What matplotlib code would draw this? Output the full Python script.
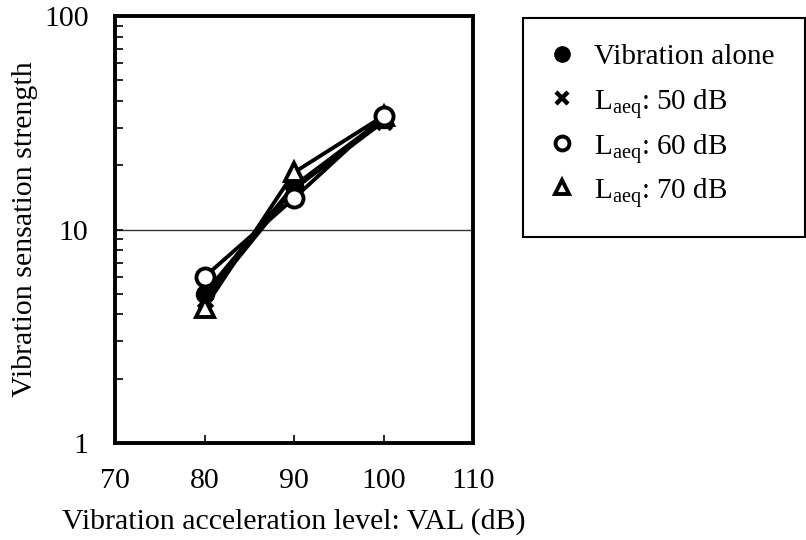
import matplotlib
matplotlib.use('Agg')
import matplotlib.pyplot as plt
from matplotlib.patches import Rectangle
from matplotlib.lines import Line2D

plt.rcParams['font.family'] = ['Liberation Serif', 'DejaVu Serif']
plt.rcParams['mathtext.fontset'] = 'custom'
plt.rcParams['mathtext.rm'] = 'Liberation Serif'
plt.rcParams['mathtext.it'] = 'Liberation Serif'
plt.rcParams['mathtext.default'] = 'regular'

# vibration acceleration level (dB)
val = [80, 90, 100]

# vibration sensation strength for each condition
vib_alone = [5.0, 16.0, 33.0]
laeq_50 = [4.7, 15.5, 32.0]
laeq_60 = [6.0, 14.0, 34.0]
laeq_70 = [4.3, 18.5, 34.0]

labels = ['Vibration alone', r'L$_{aeq}$: 50 dB', r'L$_{aeq}$: 60 dB', r'L$_{aeq}$: 70 dB']

fig = plt.figure(figsize=(8.06, 5.4), dpi=100)
ax = fig.add_axes([115/806, 1-443/540, (473-115)/806, (443-16)/540])

lw = 2.8
ax.axhline(10, color='#333333', lw=1.0, zorder=1)
ax.plot(val, laeq_50, color='black', lw=lw, marker='x', ms=10, mew=3.5, zorder=3)
ax.plot(val, vib_alone, color='black', lw=lw, marker='o', ms=13, mfc='black', mec='black', zorder=3)
ax.plot(val, laeq_70, color='black', lw=lw, marker='^', ms=13, mfc='white', mec='black', mew=2.8, zorder=4)
ax.plot(val, laeq_60, color='black', lw=lw, marker='o', ms=13, mfc='white', mec='black', mew=2.8, zorder=5)

ax.set_yscale('log')
ax.set_xlim(70, 110)
ax.set_ylim(1, 100)
ax.set_xticks([70, 80, 90, 100, 110])
ax.set_yticks([1, 10, 100])
ax.set_yticklabels(['1', '10', '100'])
ax.tick_params(axis='both', direction='in', labelsize=21.5, width=1.2, length=6)
ax.tick_params(axis='y', which='minor', direction='in', width=1.2, length=6)
ax.tick_params(axis='x', pad=18)
ax.tick_params(axis='y', pad=19)
for s in ax.spines.values():
    s.set_linewidth(2.8)

ax.set_xlabel('Vibration acceleration level: VAL (dB)', fontsize=21.5, labelpad=10)
ax.set_ylabel('Vibration sensation strength', fontsize=21.5, labelpad=4)

# legend box, drawn by hand to match the original layout
fig.patches.append(Rectangle((523/806, 1-237/540), (805-523)/806, (237-18)/540,
                             transform=fig.transFigure, fill=False, lw=1.5, ec='black'))
styles = [
    dict(marker='o', ms=11, mfc='black', mec='black'),
    dict(marker='x', ms=8, mew=3.2, color='black'),
    dict(marker='o', ms=10, mfc='white', mec='black', mew=2.8),
    dict(marker='^', ms=10, mfc='white', mec='black', mew=2.8),
]
row_y = [54, 98, 143, 187]
for lab, st, y in zip(labels, styles, row_y):
    yf = 1 - y/540
    fig.add_artist(Line2D([562/806], [yf], ls='none', transform=fig.transFigure, **st))
    fig.text(594/806, yf, lab, fontsize=21, va='center_baseline', ha='left')

fig.savefig('out.png', dpi=100)
